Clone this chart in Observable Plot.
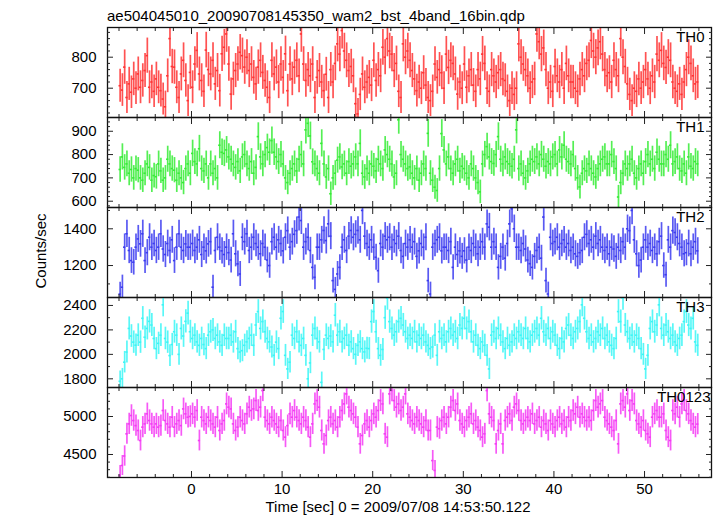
<!DOCTYPE html>
<html><head><meta charset="utf-8">
<script src="https://cdn.jsdelivr.net/npm/d3@7"></script>
<script src="https://cdn.jsdelivr.net/npm/@observablehq/plot@0.6"></script>
<style>
html,body{margin:0;padding:0;background:#fff;}
#chart{position:relative;width:717px;height:516px;font-family:"Liberation Sans",Arial,Helvetica,sans-serif;color:#000;overflow:hidden;background:#fff}
.abs{position:absolute;white-space:nowrap;font-size:15px;line-height:17px}
.panel{position:absolute;left:0}
</style></head><body>
<div id="chart"></div>
<script>
const title = "ae504045010_20090708145350_wam2_bst_4band_16bin.qdp";
const xLabel = "Time [sec] 0 = 2009/07/08 14:53:50.122";
const yLabel = "Counts/sec";
const bandNames = ["TH0", "TH1", "TH2", "TH3", "TH0123"];
const binStart = -8;     // first bin start (s)
const binSize = 0.25;    // 16 x 1/64 s bins

const th0 = [
708,694,768,670,714,687,730,700, 746,703,725,757,805,703,720,690,
730,703,692,665,640,740,860,770, 768,703,670,746,790,725,660,751,
703,778,822,746,725,690,823,760, 746,790,714,757,692,811,832,875,
778,681,730,757,778,816,805,768, 800,757,778,735,714,768,790,751,
725,703,670,790,746,768,720,778, 735,811,692,778,730,768,790,740,
875,778,725,760,740,778,670,735, 757,720,692,745,670,760,720,780,
843,810,886,820,790,757,770,740, 650,617,680,746,703,720,735,710,
790,725,760,740,832,800,860,820, 810,757,780,690,670,843,800,820,
790,757,730,692,720,700,750,710, 670,660,690,778,735,760,750,700,
810,767,790,780,746,681,720,700, 778,703,740,760,710,690,760,730,
810,780,700,690,760,740,720,750, 760,730,725,690,660,700,680,700,
843,800,778,760,740,700,720,730, 875,850,810,830,760,700,720,690,
770,740,720,760,700,780,740,720, 720,700,690,730,760,740,780,790,
854,820,800,830,850,810,760,740, 750,720,790,760,740,860,800,770,
714,680,660,700,690,730,700,720, 760,730,700,740,720,810,790,822,
780,767,800,790,720,700,690,714, 680,720,760,800,780,740,714,720];

const th1 = [
736,790,745,760,720,736,700,740, 733,700,690,720,760,745,690,710,
705,760,730,690,700,780,760,740, 733,690,720,700,680,740,760,720,
805,770,760,825,740,730,760,700, 760,720,740,700,840,810,805,820,
790,780,760,745,770,730,790,800, 760,740,770,720,745,877,790,760,
800,830,810,860,810,790,770,800, 760,700,680,720,740,760,730,780,
800,760,906,934,880,769,760,740, 720,848,760,704,740,632,700,720,
776,790,747,760,720,770,750,760, 790,760,848,720,704,740,720,760,
750,730,780,760,740,820,800,780, 760,704,720,949,800,780,760,740,
747,720,700,740,690,720,760,740, 891,720,690,660,646,740,890,820,
760,790,740,720,760,780,730,750, 740,720,700,760,740,700,680,640,
760,800,834,790,770,762,800,877, 780,760,790,770,760,750,780,906,
740,760,720,700,730,760,780,770, 790,760,800,780,750,770,760,790,
800,760,820,790,840,780,770,760, 800,740,700,661,720,740,730,760,
740,720,704,740,760,780,790,760, 760,800,770,740,618,680,720,760,
740,760,780,720,700,740,760,720, 770,800,760,780,740,810,780,760,
760,800,780,840,760,770,790,740, 730,760,720,790,750,740,770,760];

const th2 = [
1045,1082,1300,1373,1282,1227,1218,1300, 1345,1318,1373,1227,1270,1354,1300,1320,
1282,1300,1373,1290,1260,1320,1282,1340, 1227,1300,1373,1300,1282,1318,1300,1300,
1320,1282,1300,1340,1260,1300,1280,1318, 1330,1082,1282,1354,1300,1280,1260,1300,
1270,1230,1373,1264,1209,1154,1354,1330, 1373,1282,1300,1354,1320,1300,1264,1320,
1300,1230,1200,1330,1354,1300,1340,1320, 1280,1354,1390,1300,1330,1370,1390,1464,
1445,1300,1330,1354,1282,1190,1136,1300, 1300,1340,1391,1336,1427,1360,1118,1070,
1154,1190,1300,1340,1282,1360,1391,1354, 1370,1391,1340,1500,1360,1320,1300,1340,
1300,1245,1172,1320,1300,1360,1340,1354, 1300,1340,1320,1360,1282,1250,1320,1300,
1340,1300,1330,1250,1280,1320,1300,1354, 1118,1045,1300,1320,1340,1354,1280,1300,
1300,1282,1330,1190,1300,1260,1280,1250, 1280,1230,1300,1282,1320,1300,1264,1300,
1330,1300,1427,1409,1300,1330,1300,1190, 1250,1300,1240,1320,1427,1509,1400,1300,
1300,1282,1320,1290,1230,1210,1190,1250, 1282,1300,1240,1464,1118,1045,1354,1320,
1330,1354,1300,1320,1340,1300,1320,1282, 1300,1264,1250,1270,1282,1354,1370,1320,
1340,1300,1360,1320,1340,1300,1282,1300, 1264,1300,1290,1250,1300,1282,1330,1300,
1400,1390,1500,1340,1264,1200,1230,1300, 1340,1300,1320,1282,1300,1264,1330,1360,
1200,1150,1340,1300,1390,1380,1354,1320, 1300,1264,1270,1320,1264,1300,1330,1280];

const th3 = [
1780,1800,1936,2019,2212,2150,2100,2075, 2157,2100,2295,2140,2212,2270,2240,2130,
2047,2090,2157,2405,2130,2100,1990,2080, 2185,2157,2000,2212,2150,2270,2337,2185,
2130,2157,2102,2074,2130,2080,2047,2157, 2185,2200,2130,2157,2102,2074,2157,2130,
2130,2157,2102,2185,2047,2019,2030,2074, 2102,2130,2157,2074,2240,2350,2212,2268,
2185,2130,2102,2060,1992,2100,2047,2295, 2350,1992,1881,1936,2157,2130,2185,2102,
2074,2130,1992,1800,1930,2157,2212,2130, 2102,1771,2040,2157,2130,2150,2102,2320,
2157,2185,2102,2130,2157,2074,2102,2047, 2000,2074,2102,2047,2020,2050,2047,2268,
2350,2185,2047,1992,2040,2300,2460,2268, 2212,2157,2185,2268,2295,2240,2185,2130,
2157,2130,2185,2102,2157,2130,2157,2102, 2074,2047,2060,2157,1992,2185,2130,2157,
2102,2185,2212,2157,2185,2130,2240,2212, 2295,2212,2268,2185,2102,2157,2074,2047,
2102,2074,1992,1881,2157,2185,2130,2212, 2157,2102,2047,2130,2074,2102,2157,2130,
2185,2157,2130,2212,2130,2102,2157,2185, 2212,2157,2295,2185,2157,2212,2130,2185,
2157,2074,2047,2130,2102,2212,2240,2157, 2130,2185,2212,2268,2405,2295,2185,2130,
2157,2102,2130,2185,2157,2212,2130,2157, 2102,2074,2047,2130,2350,2268,2460,2240,
2185,2130,2157,2102,2157,2130,2047,2000, 1881,1992,2212,2268,2185,2240,2405,2212,
2157,2240,2185,2130,2157,2102,2074,2130, 2157,2268,2350,2240,2212,2295,2102,2074];

const th0123 = [
4224,4355,4480,4772,4903,5013,4947,4880, 4816,4684,4860,4903,5035,4947,4903,4860,
4903,4860,4880,5079,4947,4903,4860,4991, 4860,4903,4947,4880,5100,5035,4991,5000,
5035,4991,5079,4684,4991,4947,4903,4991, 4947,4903,4860,4991,4816,4903,4947,5166,
5123,5100,4903,4816,4860,4991,4947,4903, 5035,5123,5079,5100,5210,5079,5123,5342,
4991,4947,4903,4991,4947,4903,4860,4947, 4816,4728,4880,5035,4991,5079,4991,4947,
4903,4991,4947,4860,4728,4903,5166,5210, 5123,4816,4640,4750,4947,4991,4903,4947,
4860,4991,5079,5166,5298,5123,5079,5035, 4991,4860,4640,4750,4903,4947,4860,4947,
5035,4991,5079,5210,5166,4772,4728,5298, 5342,5210,5123,5166,5079,5123,5298,5035,
4991,4947,4903,4991,4947,4903,4860,4947, 4816,4816,4420,4290,4860,4840,4947,4991,
4903,4991,5123,5210,5079,5166,4947,4903, 4860,4947,4991,5035,4903,4947,4860,4816,
4728,4772,5342,5035,4991,4947,4640,4816, 4903,4640,4947,4991,5035,4947,5123,5166,
5079,4947,4903,4947,4991,4947,5035,4903, 4947,4991,4860,4947,4903,4816,4947,4903,
4860,4947,4991,4903,4947,4860,4991,4947, 5079,5035,5123,4991,5035,4991,4947,4991,
4947,5079,5210,5123,5166,5210,4991,4947, 4903,4860,4816,4947,4640,5166,5210,5123,
5298,5079,5210,5166,4947,4903,4860,4947, 4816,4772,4728,4991,5035,5079,4991,4991,
5035,4816,4728,4684,5079,5035,5123,4991, 5166,5210,5079,5035,4947,4903,4860,4900];

const series = [th0, th1, th2, th3, th0123];
const bandColors = ["#ff3434", "#36ec36", "#3c3cf0", "#3cf6f6", "#f43cf4"];
const yDomains = [[605.5, 895.8], [573, 959], [1026, 1516], [1729, 2465], [4197, 5382]];
const yMajor = [[700, 800], [600, 700, 800, 900], [1200, 1400], [1800, 2000, 2200, 2400], [4500, 5000]];
const yMinorStep = [20, 20, 100, 100, 100];
const xDomain = [-9.27, 57.39];
const xMajor = [0, 10, 20, 30, 40, 50];
const xMinorStep = 2;

const chart = document.getElementById("chart");
const font = '"Liberation Sans", Arial, Helvetica, sans-serif';
const frameTop = 27, panelH = 90;
const labelDx = [-7, -7, -7, -7, -1];
const noText = () => "";
const plain = d => String(d);
const xMinor = d3.range(-8, 57, xMinorStep).filter(v => v % 10 !== 0);

series.forEach((vals, i) => {
  const rows = vals.map((v, k) => ({
    t0: binStart + k * binSize,
    t1: binStart + (k + 1) * binSize,
    tc: binStart + (k + 0.5) * binSize,
    v,
    err: Math.sqrt(v * binSize) / binSize
  }));
  const dom = yDomains[i];
  const step = yMinorStep[i];
  const yMinor = d3.range(Math.ceil(dom[0] / step) * step, dom[1], step)
    .filter(v => !yMajor[i].includes(v));
  const last = i === series.length - 1;
  const color = bandColors[i];
  const mb = last ? 39 : 1;
  const marks = [
    Plot.ruleX(rows, {x: "tc", y1: d => d.v - d.err, y2: d => d.v + d.err, stroke: color, strokeWidth: 1.7, strokeOpacity: 0.85, clip: true}),
    Plot.ruleY(rows, {y: "v", x1: "t0", x2: "t1", stroke: color, strokeWidth: 1.6, clip: true}),
    Plot.frame({stroke: "#111", strokeWidth: 1.3}),
    Plot.axisY(yMajor[i], {anchor: "left", tickSize: 6, dx: 6, tickPadding: 11, tickFormat: plain, label: null, stroke: "#222", fill: "#000"}),
    Plot.axisY(yMajor[i], {anchor: "right", tickSize: 6, dx: -6, tickFormat: noText, label: null, stroke: "#222"}),
    Plot.axisY(yMinor, {anchor: "left", tickSize: 3, dx: 3, tickFormat: noText, label: null, stroke: "#222"}),
    Plot.axisY(yMinor, {anchor: "right", tickSize: 3, dx: -3, tickFormat: noText, label: null, stroke: "#222"}),
    Plot.axisX(xMajor, {anchor: "top", tickSize: 6, dy: 6, tickFormat: noText, label: null, stroke: "#222"}),
    Plot.axisX(xMinor, {anchor: "top", tickSize: 3, dy: 3, tickFormat: noText, label: null, stroke: "#222"}),
    Plot.axisX(xMajor, last
      ? {anchor: "bottom", tickSize: 6, dy: -6, tickPadding: 6, tickFormat: plain, label: null, stroke: "#222", fill: "#000"}
      : {anchor: "bottom", tickSize: 6, dy: -6, tickFormat: noText, label: null, stroke: "#222"}),
    Plot.axisX(xMinor, {anchor: "bottom", tickSize: 3, dy: -3, tickFormat: noText, label: null, stroke: "#222"}),
    Plot.text([bandNames[i]], {frameAnchor: "top-right", textAnchor: "end", lineAnchor: "middle", dx: labelDx[i], dy: 10, fontSize: 15, fill: "#000"})
  ];
  const svg = Plot.plot({
    width: 717,
    height: 1 + panelH + mb,
    marginLeft: 107,
    marginRight: 6,
    marginTop: 1,
    marginBottom: mb,
    x: {domain: xDomain, axis: null},
    y: {domain: dom, axis: null},
    style: {fontSize: "15px", fontFamily: font, background: "transparent", color: "#000", overflow: "visible"},
    marks
  });
  svg.classList.add("panel");
  svg.style.top = (frameTop + i * panelH - 1) + "px";
  chart.appendChild(svg);
});

function addText(txt, css) {
  const d = document.createElement("div");
  d.className = "abs";
  d.textContent = txt;
  Object.assign(d.style, css);
  chart.appendChild(d);
}
addText(title, {left: "107px", top: "7px"});
addText(xLabel, {left: "398px", top: "498px", transform: "translateX(-50%)"});
addText(yLabel, {left: "40px", top: "251px", transform: "translate(-50%,-50%) rotate(-90deg)"});
</script>
</body></html>
